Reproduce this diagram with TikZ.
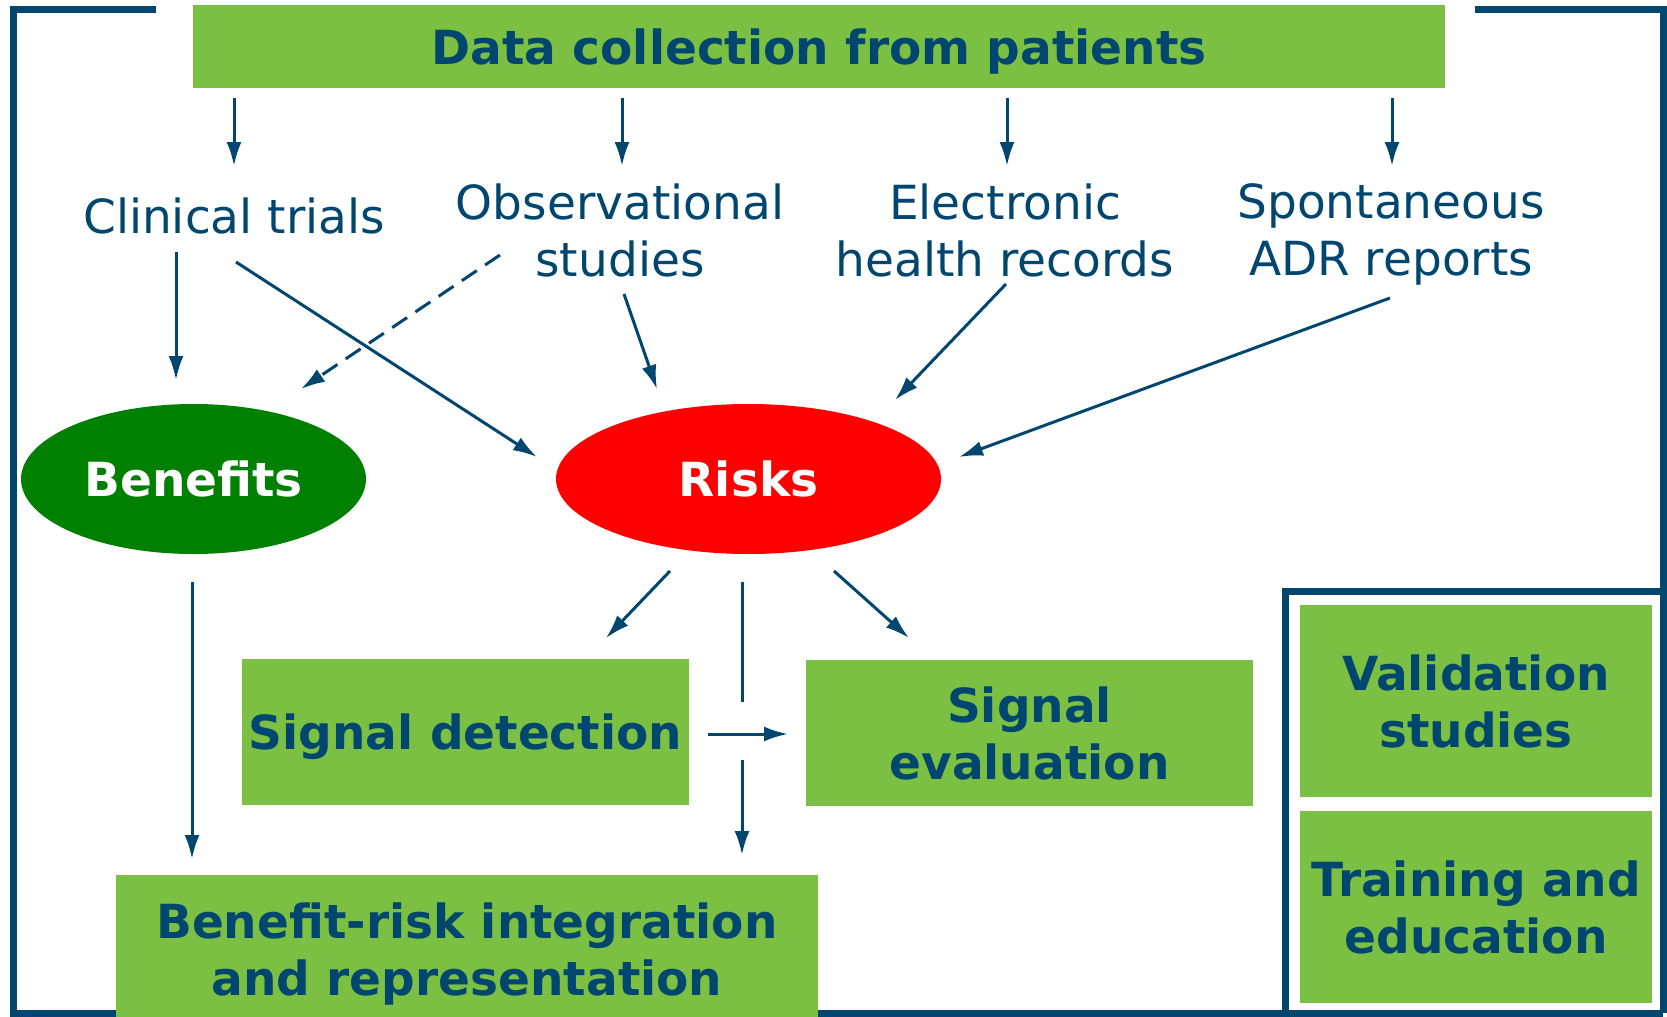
\documentclass[tikz,border=0pt]{standalone}
\usepackage{fontspec}
\setmainfont{DejaVu Sans}
\usetikzlibrary{shapes.geometric,arrows.meta}
\definecolor{navy}{RGB}{0,70,110}
\definecolor{boxgreen}{RGB}{123,192,67}
\definecolor{bengreen}{RGB}{0,128,0}
\definecolor{riskred}{RGB}{255,0,0}
\begin{document}
\begin{tikzpicture}[x=0.5pt,y=-0.5pt,
  lbl/.style={text=navy,font=\fontsize{23.5}{28.5}\selectfont,align=center,inner sep=0pt},
  gbox/.style={fill=boxgreen,text=navy,font=\fontsize{23.5}{28.5}\selectfont\bfseries,align=center,inner sep=0pt,text depth=0pt},
  oval/.style={ellipse,text=white,font=\fontsize{23.5}{28.5}\selectfont\bfseries,inner sep=0pt,minimum height=75pt},
  arr/.style={draw=navy,line width=1.5pt,-{Latex[length=12pt,width=7.5pt]}},
  plain/.style={draw=navy,line width=1.5pt},
  framel/.style={draw=navy,line width=3.5pt}]
\useasboundingbox (0,0) rectangle (1667,1017);
% frames
\draw[framel] (156,9) -- (13,9) -- (13,1013) -- (1663,1013);
\draw[framel] (1475,9) -- (1663,9) -- (1663,1013);
\draw[framel] (1285,1017) -- (1285,591) -- (1663,591);
% boxes
\node[gbox,minimum width=626pt,minimum height=41.5pt] (title) at (819,46.5) {Data collection from patients};
\node[gbox,minimum width=223.5pt,minimum height=73pt] (sd) at (465.5,732) {Signal detection};
\node[gbox,minimum width=223.5pt,minimum height=73pt] (se) at (1029.5,733) {Signal\\evaluation};
\node[gbox,minimum width=351pt,minimum height=71pt] (br) at (467,946) {};
\node[gbox,fill=none] (brt) at (467,949) {Benefit-risk integration\\and representation};
\node[gbox,minimum width=176pt,minimum height=96pt,text depth=-2pt] (val) at (1476,701) {Validation\\studies};
\node[gbox,minimum width=176pt,minimum height=96pt,text depth=-2.2pt] (tr) at (1476,907) {Training and\\education};
% labels
\node[lbl] (ct) at (234,216) {Clinical trials};
\node[lbl] (obs) at (620,230) {Observational\\studies};
\node[lbl] (ehr) at (1005,230) {Electronic\\health records};
\node[lbl] (adr) at (1391,234) {Spontaneous\\ADR reports};
% ellipses
\node[oval,fill=bengreen,minimum width=172.5pt] (ben) at (193.5,479) {Benefits};
\node[oval,fill=riskred,minimum width=192.5pt] (risk) at (748.5,479) {Risks};
% arrow end points
\coordinate (t1) at (234,98);  \coordinate (c1) at (234,166);
\coordinate (t2) at (622,98);  \coordinate (c2) at (622,166);
\coordinate (t3) at (1007,98); \coordinate (c3) at (1007,166);
\coordinate (t4) at (1392,98); \coordinate (c4) at (1392,166);
\coordinate (ctA) at (176,252); \coordinate (benA) at (176,380);
\coordinate (ctB) at (236,262); \coordinate (riskA) at (537,457);
\coordinate (obsA) at (500,255); \coordinate (benB) at (301,389);
\coordinate (obsB) at (624,294); \coordinate (riskB) at (657,389);
\coordinate (ehrA) at (1006,284); \coordinate (riskC) at (895,400);
\coordinate (adrA) at (1390,298); \coordinate (riskD) at (959,457);
\coordinate (riskE) at (670,571); \coordinate (sdA) at (606,638);
\coordinate (riskF) at (742,582); \coordinate (mid) at (742,702);
\coordinate (sdB) at (708,734); \coordinate (seA) at (788,734);
\coordinate (mid2) at (742,760); \coordinate (brA) at (742,855);
\coordinate (riskG) at (834,571); \coordinate (seB) at (909,638);
\coordinate (benC) at (192,582); \coordinate (brB) at (192,859);
% connectors
\draw[arr] (t1) -- (c1);
\draw[arr] (t2) -- (c2);
\draw[arr] (t3) -- (c3);
\draw[arr] (t4) -- (c4);
\draw[arr] (ctA) -- (benA);
\draw[arr] (ctB) -- (riskA);
\draw[arr,dash pattern=on 9pt off 5pt] (obsA) -- (benB);
\draw[arr] (obsB) -- (riskB);
\draw[arr] (ehrA) -- (riskC);
\draw[arr] (adrA) -- (riskD);
\draw[arr] (riskE) -- (sdA);
\draw[plain] (riskF) -- (mid);
\draw[arr] (sdB) -- (seA);
\draw[arr] (mid2) -- (brA);
\draw[arr] (riskG) -- (seB);
\draw[arr] (benC) -- (brB);
\end{tikzpicture}
\end{document}
